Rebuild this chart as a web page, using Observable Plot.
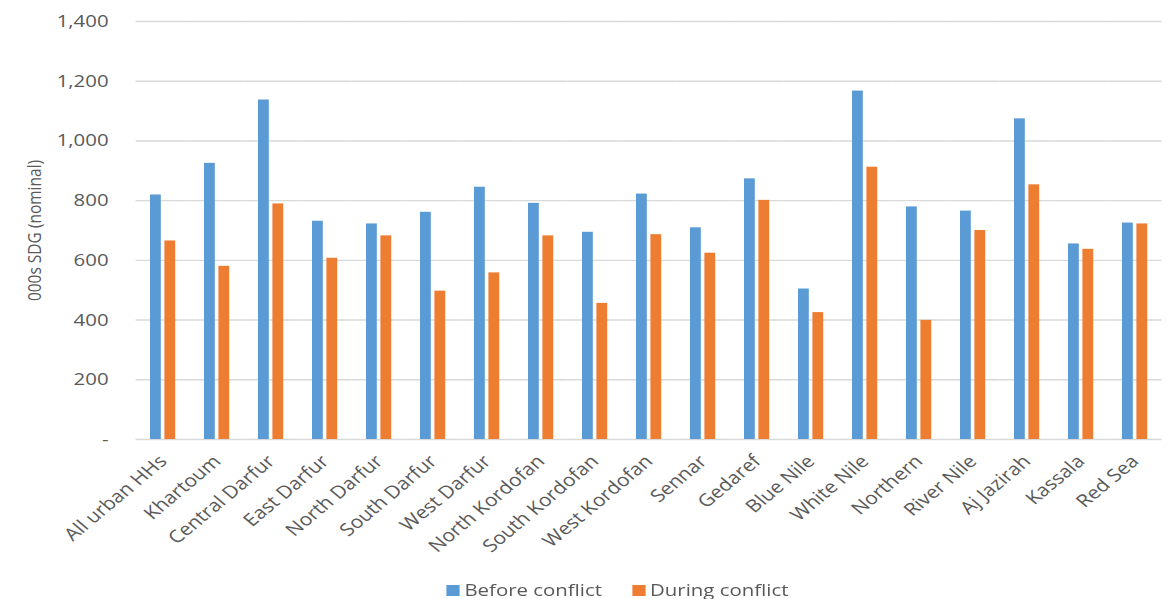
<!DOCTYPE html>
<html>
<head>
<meta charset="utf-8">
<script src="https://cdn.jsdelivr.net/npm/d3@7"></script>
<script src="https://cdn.jsdelivr.net/npm/@observablehq/plot@0.6"></script>
<style>
  html, body { margin: 0; padding: 0; background: #fff; overflow: hidden; }
  #wrap { width: 976px; transform: scaleX(1.2); transform-origin: 0 0; font-family: "Open Sans", sans-serif; color: #595959; }
  #legend { display: flex; justify-content: flex-start; padding-left: 372px; gap: 25px; margin-top: 10px; line-height: 20px; font-size: 17px; }
  #legend span.item { display: inline-flex; align-items: center; }
  #legend i { display: inline-block; width: 11px; height: 11px; margin-right: 4px; }
</style>
</head>
<body>
<div id="wrap">
  <div id="chart"></div>
  <div id="legend"></div>
</div>
<script>
// Mean household figures by state, in thousands of SDG (nominal)
const categories = ["All urban HHs", "Khartoum", "Central Darfur", "East Darfur", "North Darfur",
  "South Darfur", "West Darfur", "North Kordofan", "South Kordofan", "West Kordofan", "Sennar",
  "Gedaref", "Blue Nile", "White Nile", "Northern", "River Nile", "Aj Jazirah", "Kassala", "Red Sea"];
const seriesNames = ["Before conflict", "During conflict"];
const beforeConflict = [819, 925, 1137, 731, 722, 761, 845, 791, 694, 822, 709, 873, 504, 1167, 779, 765, 1074, 655, 725];
const duringConflict = [665, 580, 789, 607, 682, 497, 558, 682, 456, 686, 624, 801, 425, 912, 399, 700, 853, 637, 722];
const yTicks = [0, 200, 400, 600, 800, 1000, 1200, 1400];
const colors = ["#5B9BD5", "#ED7D31"];

const rows = categories.flatMap((c, i) => [
  {region: c, series: seriesNames[0], value: beforeConflict[i]},
  {region: c, series: seriesNames[1], value: duringConflict[i]}
]);

const fmt = d => d === 0 ? "-" : d3.format(",")(d);

const chart = Plot.plot({
  width: 976,
  height: 570,
  marginLeft: 105,
  marginRight: 0,
  marginTop: 21,
  marginBottom: 131,
  style: {fontFamily: "Open Sans, sans-serif", color: "#595959", background: "#fff"},
  fx: {domain: categories, padding: 0},
  x: {domain: seriesNames, paddingInner: 0.22, paddingOuter: 0.85, axis: null},
  y: {domain: [0, 1400]},
  color: {domain: seriesNames, range: colors},
  marks: [
    Plot.ruleY(yTicks, {stroke: "#d9d9d9", strokeWidth: 1.4}),
    Plot.barY(rows, {fx: "region", x: "series", y: "value", fill: "series"}),
    Plot.axisY({ticks: yTicks, tickFormat: fmt, tickSize: 0, tickPadding: 23, fontSize: 17, label: null, color: "#595959"}),
    Plot.axisY({ticks: [], tickSize: 0, label: "000s SDG (nominal)", labelAnchor: "center", labelOffset: 90, labelArrow: "none", fontSize: 15.5, color: "#595959"}),
    Plot.axisFx({anchor: "bottom", tickRotate: -45, tickSize: 0, tickPadding: 19, fontSize: 17.5, label: null, color: "#595959"})
  ]
});
document.getElementById("chart").append(chart);

const legend = d3.select("#legend");
seriesNames.forEach((s, i) => {
  const item = legend.append("span").attr("class", "item");
  item.append("i").style("background", colors[i]);
  item.append("span").text(s);
});
</script>
</body>
</html>
